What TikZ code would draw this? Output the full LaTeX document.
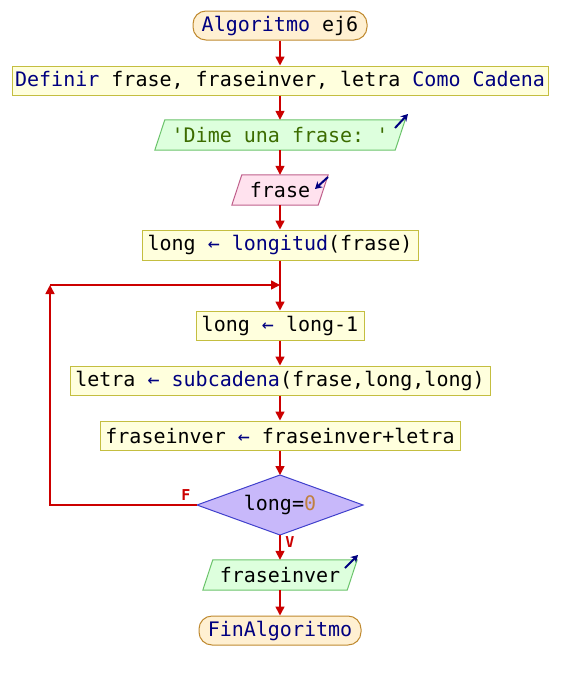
\documentclass[tikz,border=0pt]{standalone}
\usepackage{fontspec}
\setmonofont{DejaVu Sans Mono}
\usetikzlibrary{arrows.meta,backgrounds}
\definecolor{flowred}{HTML}{CC0000}
\definecolor{kw}{HTML}{000080}
\definecolor{strc}{HTML}{3C6C00}
\definecolor{numc}{HTML}{C08040}
\definecolor{termF}{HTML}{FFF0D2}
\definecolor{termB}{HTML}{C08A30}
\definecolor{procF}{HTML}{FFFFDD}
\definecolor{procB}{HTML}{C4BE40}
\definecolor{outF}{HTML}{DDFFDD}
\definecolor{outB}{HTML}{6CC46C}
\definecolor{inF}{HTML}{FFE2EE}
\definecolor{inB}{HTML}{C0608C}
\definecolor{decF}{HTML}{C8B8FA}
\definecolor{decB}{HTML}{4040CC}
\newcommand\kwd[1]{\textcolor{kw}{#1}}
\newcommand\iobox[3]{%
  \begin{scope}[on background layer]
  \draw[fill=#2,draw=#3,line width=1pt] ([xshift=-5pt]#1.south west) -- ([xshift=-5pt]#1.south east) -- ([xshift=5pt]#1.north east) -- ([xshift=5pt]#1.north west) -- cycle;
  \end{scope}}
\begin{document}
\begin{tikzpicture}[x=1pt,y=-1pt,
  font=\ttfamily\fontsize{20}{24}\selectfont,
  term/.style={rectangle, rounded corners=13pt, draw=termB, fill=termF, line width=1pt, minimum height=29pt, inner sep=0pt},
  proc/.style={rectangle, draw=procB, fill=procF, line width=1pt, minimum height=29pt, inner sep=0pt},
  iotext/.style={rectangle, inner sep=0pt, minimum height=30pt},
  flow/.style={draw=flowred, line width=1.6pt, -{Triangle[length=9pt,width=9pt]}},
  icon/.style={draw=kw, line width=2pt, -{Stealth[length=7pt,width=8pt]}},
  lab/.style={text=flowred, font=\ttfamily\bfseries\fontsize{15}{17}\selectfont, inner sep=0pt}]
\begin{scope}[on background layer]
\fill[white] (0,0) rectangle (560,680);
\end{scope}
\useasboundingbox (0,0) rectangle (560,680);

\node[term, minimum width=174pt] (start) at (280,25.5) {\kwd{Algoritmo} ej6};
\node[proc, minimum width=536pt] (def) at (280,80.5) {\kwd{Definir} frase, fraseinver, letra \kwd{Como Cadena}};
\node[iotext, minimum width=240pt] (dime) at (280,135) {\textcolor{strc}{'Dime una frase: '}};
\iobox{dime}{outF}{outB}
\node[iotext, minimum width=86pt] (frase) at (280,190) {frase};
\iobox{frase}{inF}{inB}
\node[proc, minimum width=276pt, minimum height=30pt] (lon) at (280,245) {long \kwd{←} \kwd{longitud}(frase)};
\node[proc, minimum width=168pt] (dec) at (280,325.5) {long \kwd{←} long-1};
\node[proc, minimum width=420pt] (let) at (280,380.5) {letra \kwd{←} \kwd{subcadena}(frase,long,long)};
\node[proc, minimum width=360pt] (fi) at (280,435.5) {fraseinver \kwd{←} fraseinver+letra};

\coordinate (dN) at (280,475);
\coordinate (dS) at (280,535);
\coordinate (dW) at (197,505);
\coordinate (dE) at (363,505);
\begin{scope}[on background layer]
\draw[fill=decF, draw=decB, line width=1pt] (dN) -- (dE) -- (dS) -- (dW) -- cycle;
\end{scope}
\node[inner sep=0pt] (cond) at (280,505) {long=\textcolor{numc}{0}};

\node[iotext, minimum width=144pt] (out) at (280,575) {fraseinver};
\iobox{out}{outF}{outB}
\node[term, minimum width=162pt] (fin) at (280,630.5) {\kwd{FinAlgoritmo}};

\coordinate (jn) at (280,285);
\coordinate (jl) at (50,285);
\coordinate (bl) at (50,505);

\draw[flow] (start.south) -- (def.north);
\draw[flow] (def.south) -- (dime.north);
\draw[flow] (dime.south) -- (frase.north);
\draw[flow] (frase.south) -- (lon.north);
\draw[flow] (lon.south) -- (dec.north);
\draw[flow] (dec.south) -- (let.north);
\draw[flow] (let.south) -- (fi.north);
\draw[flow] (fi.south) -- (dN);
\draw[flow] (dW) -- (bl) -- (jl);
\draw[flow] (jl) -- (jn);
\draw[flow] (dS) -- (out.north);
\draw[flow] (out.south) -- (fin.north);

\node[lab] (F) at (186,495) {F};
\node[lab] (V) at (290,542) {V};

\coordinate (i1a) at (395,128);
\coordinate (i1b) at (408,114);
\coordinate (i2a) at (328,177);
\coordinate (i2b) at (315,189);
\coordinate (i3a) at (345,568);
\coordinate (i3b) at (358,555);
\draw[icon] (i1a) -- (i1b);
\draw[icon] (i2a) -- (i2b);
\draw[icon] (i3a) -- (i3b);
\end{tikzpicture}
\end{document}
